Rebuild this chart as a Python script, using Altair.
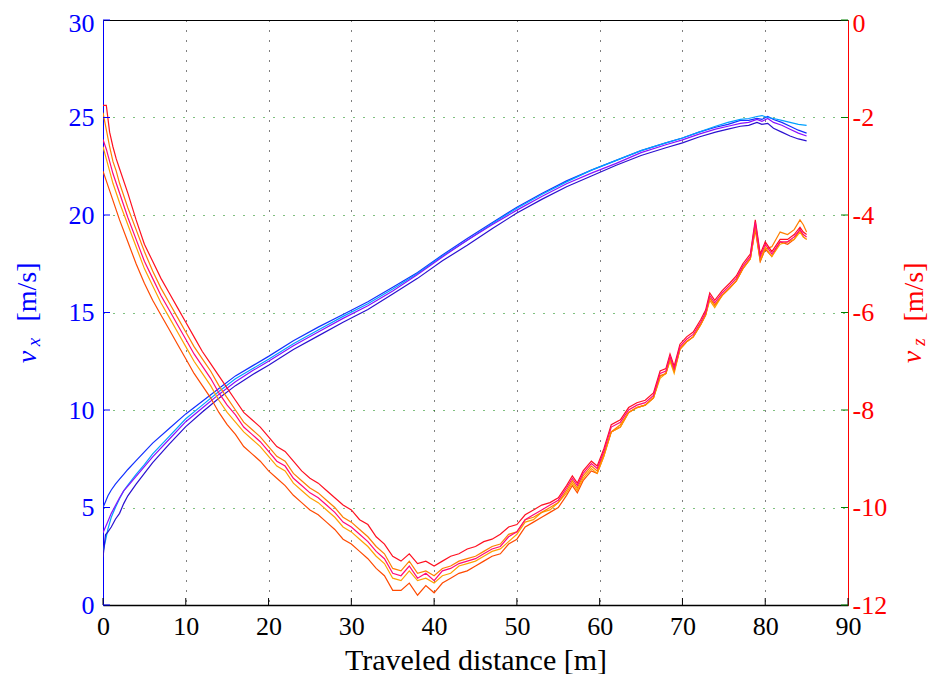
import altair as alt
import pandas as pd

FONT = "Liberation Serif"

# ---------------- axis tick values ----------------
X_TICKS = [0, 10, 20, 30, 40, 50, 60, 70, 80, 90]
VX_TICKS = [0, 5, 10, 15, 20, 25, 30]
VZ_TICKS = [0, -2, -4, -6, -8, -10, -12]

# ---------------- v_z curves (right axis) ----------------
RX = [0, 0.4, 0.8, 1.2, 1.6, 2, 3, 4, 5, 6,
      7, 8, 9, 10, 11, 12, 13, 14, 15, 16,
      17, 18, 19, 20, 21, 22, 23, 24, 25, 26,
      27, 28, 29, 30, 31, 32, 33, 34, 35, 36,
      37, 38, 39, 40, 41, 42, 43, 44, 45, 46,
      47, 48, 49, 50, 51, 52, 53, 54, 55, 56,
      56.7, 57.3, 58, 59, 59.7, 60.5, 61.4, 62.5, 63.5, 64.5,
      65.5, 66.5, 67.3, 68, 68.5, 69, 69.7, 70.5, 71.3, 72.2,
      72.8, 73.3, 73.9, 74.8, 75.7, 76.5, 77.3, 78.2, 78.8, 79.4,
      80, 80.8, 81.8, 82.7, 83.5, 84.2, 84.6, 85]

VZ_ORANGERED = [-3.1, -3.3, -3.5, -3.7, -3.9, -4.1, -4.55, -5.0, -5.4, -5.75,
                -6.05, -6.35, -6.65, -6.95, -7.25, -7.5, -7.75, -8.05, -8.3, -8.5,
                -8.75, -8.9, -9.05, -9.25, -9.4, -9.55, -9.75, -9.9, -10.05, -10.15,
                -10.3, -10.45, -10.65, -10.75, -10.9, -11.05, -11.25, -11.4, -11.7, -11.7,
                -11.55, -11.8, -11.6, -11.75, -11.55, -11.45, -11.35, -11.3, -11.2, -11.1,
                -11.0, -10.95, -10.75, -10.65, -10.4, -10.3, -10.2, -10.1, -10.0, -9.75,
                -9.55, -9.7, -9.45, -9.25, -9.3, -8.95, -8.45, -8.35, -8.05, -7.95,
                -7.9, -7.75, -7.3, -7.25, -6.95, -7.2, -6.75, -6.6, -6.5, -6.25,
                -6.05, -5.7, -5.85, -5.65, -5.5, -5.35, -5.1, -4.9, -4.3, -4.95,
                -4.7, -4.85, -4.55, -4.6, -4.5, -4.3, -4.45, -4.5]

VZ_ORANGE2 = [-2.6, -2.85, -3.1, -3.35, -3.55, -3.75, -4.2, -4.65, -5.1, -5.45,
              -5.8, -6.1, -6.4, -6.7, -7.0, -7.25, -7.5, -7.8, -8.05, -8.25,
              -8.45, -8.6, -8.75, -8.95, -9.15, -9.25, -9.5, -9.65, -9.8, -9.9,
              -10.05, -10.2, -10.4, -10.5, -10.65, -10.8, -11.0, -11.15, -11.45, -11.5,
              -11.3, -11.5, -11.45, -11.55, -11.4, -11.35, -11.2, -11.15, -11.1, -11.0,
              -10.9, -10.85, -10.7, -10.55, -10.3, -10.25, -10.1, -10.05, -9.9, -9.7,
              -9.5, -9.65, -9.4, -9.2, -9.3, -8.95, -8.45, -8.35, -8.05, -7.95,
              -7.9, -7.75, -7.35, -7.25, -7.0, -7.25, -6.75, -6.6, -6.5, -6.25,
              -6.05, -5.75, -5.9, -5.65, -5.5, -5.35, -5.1, -4.9, -4.25, -4.9,
              -4.65, -4.85, -4.6, -4.55, -4.5, -4.35, -4.45, -4.5]

VZ_ORANGE = [-1.9, -2.25, -2.6, -2.9, -3.1, -3.35, -3.85, -4.3, -4.75, -5.15,
             -5.5, -5.8, -6.1, -6.4, -6.7, -6.95, -7.2, -7.5, -7.75, -8.0,
             -8.25, -8.4, -8.55, -8.75, -8.95, -9.05, -9.3, -9.45, -9.6, -9.7,
             -9.85, -10.0, -10.2, -10.3, -10.45, -10.6, -10.8, -10.95, -11.25, -11.3,
             -11.1, -11.35, -11.3, -11.4, -11.25, -11.2, -11.1, -11.05, -11.0, -10.9,
             -10.8, -10.75, -10.55, -10.5, -10.25, -10.2, -10.1, -10.0, -9.9, -9.65,
             -9.45, -9.6, -9.35, -9.15, -9.25, -8.9, -8.45, -8.3, -8.05, -7.95,
             -7.9, -7.75, -7.3, -7.25, -6.95, -7.2, -6.75, -6.6, -6.5, -6.25,
             -6.05, -5.7, -5.85, -5.65, -5.5, -5.35, -5.1, -4.9, -4.25, -4.95,
             -4.7, -4.65, -4.35, -4.4, -4.3, -4.1, -4.2, -4.35]

VZ_RED = [-1.75, -1.75, -2.3, -2.6, -2.85, -3.05, -3.55, -4.1, -4.6, -4.95,
          -5.3, -5.6, -5.9, -6.2, -6.5, -6.8, -7.05, -7.3, -7.55, -7.8,
          -8.05, -8.2, -8.35, -8.55, -8.75, -8.85, -9.05, -9.25, -9.4, -9.5,
          -9.65, -9.8, -9.95, -10.05, -10.25, -10.35, -10.6, -10.75, -11.0, -11.1,
          -10.95, -11.15, -11.1, -11.2, -11.1, -11.0, -10.95, -10.85, -10.8, -10.7,
          -10.65, -10.55, -10.4, -10.35, -10.15, -10.05, -9.95, -9.9, -9.8, -9.55,
          -9.35, -9.5, -9.25, -9.05, -9.15, -8.8, -8.3, -8.2, -7.95, -7.85,
          -7.8, -7.65, -7.2, -7.15, -6.85, -7.1, -6.65, -6.5, -6.4, -6.15,
          -5.95, -5.6, -5.75, -5.55, -5.4, -5.25, -5.0, -4.8, -4.1, -4.8,
          -4.55, -4.75, -4.5, -4.5, -4.4, -4.25, -4.35, -4.4]

VZ_MAGENTA = [-2.45, -2.65, -2.9, -3.15, -3.35, -3.55, -4.05, -4.5, -4.95, -5.3,
              -5.65, -5.95, -6.25, -6.55, -6.85, -7.1, -7.35, -7.65, -7.9, -8.1,
              -8.35, -8.5, -8.65, -8.85, -9.05, -9.15, -9.4, -9.55, -9.7, -9.8,
              -9.95, -10.1, -10.3, -10.4, -10.55, -10.7, -10.9, -11.05, -11.35, -11.4,
              -11.2, -11.45, -11.35, -11.5, -11.3, -11.25, -11.15, -11.1, -11.05, -10.95,
              -10.85, -10.8, -10.6, -10.5, -10.25, -10.15, -10.05, -9.95, -9.85, -9.6,
              -9.4, -9.55, -9.3, -9.1, -9.2, -8.85, -8.35, -8.25, -8.0, -7.9,
              -7.85, -7.7, -7.25, -7.2, -6.9, -7.15, -6.7, -6.55, -6.45, -6.2,
              -6.0, -5.65, -5.8, -5.6, -5.45, -5.3, -5.05, -4.85, -4.15, -4.85,
              -4.6, -4.8, -4.55, -4.55, -4.45, -4.3, -4.4, -4.45]

# ---------------- v_x curves (left axis) ----------------
BX = [0, 0.3, 0.6, 1, 1.5, 2, 2.5, 3, 4, 5,
      6, 8, 10, 12, 14, 16, 18, 20, 23, 26,
      29, 32, 35, 38, 41, 44, 47, 50, 53, 56,
      59, 62, 65, 68, 70, 72, 74, 75.5, 77, 78,
      79, 79.6, 80.3, 81, 82, 83, 84, 85]

VX_BLUE = [5.0, 5.3, 5.6, 5.9, 6.2, 6.45, 6.7, 6.95, 7.4, 7.85,
           8.3, 9.05, 9.8, 10.45, 11.1, 11.75, 12.25, 12.75, 13.55, 14.25,
           14.9, 15.55, 16.3, 17.05, 17.95, 18.8, 19.6, 20.4, 21.1, 21.75,
           22.3, 22.8, 23.3, 23.7, 23.95, 24.25, 24.5, 24.65, 24.85, 24.85,
           24.95, 24.9, 25.05, 24.9, 24.75, 24.55, 24.35, 24.2]

VX_CYAN = [2.7, 3.3, 3.9, 4.5, 5.0, 5.45, 5.85, 6.15, 6.7, 7.2,
           7.75, 8.65, 9.55, 10.25, 10.95, 11.6, 12.1, 12.6, 13.4, 14.1,
           14.8, 15.45, 16.2, 17.0, 17.9, 18.7, 19.55, 20.35, 21.05, 21.7,
           22.3, 22.8, 23.3, 23.7, 23.95, 24.25, 24.55, 24.75, 24.9, 24.95,
           25.05, 25.1, 25.0, 24.95, 24.85, 24.75, 24.65, 24.6]

VX_PURPLE = [3.7, 4.0, 4.3, 4.7, 5.1, 5.5, 5.85, 6.1, 6.6, 7.1,
             7.6, 8.5, 9.4, 10.1, 10.8, 11.45, 12.0, 12.5, 13.3, 14.0,
             14.7, 15.35, 16.1, 16.95, 17.85, 18.7, 19.5, 20.25, 20.95, 21.6,
             22.15, 22.65, 23.2, 23.6, 23.85, 24.15, 24.4, 24.55, 24.7, 24.75,
             24.9, 24.8, 24.95, 24.75, 24.6, 24.4, 24.2, 24.05]

VX_DARKBLUE = [2.45, 3.6, 3.75, 4.0, 4.4, 4.7, 5.2, 5.6, 6.2, 6.75,
               7.3, 8.25, 9.15, 9.9, 10.6, 11.25, 11.8, 12.3, 13.1, 13.8,
               14.5, 15.15, 15.95, 16.75, 17.65, 18.45, 19.3, 20.1, 20.8, 21.45,
               22.0, 22.55, 23.05, 23.45, 23.7, 24.0, 24.25, 24.4, 24.55, 24.6,
               24.75, 24.65, 24.7, 24.45, 24.25, 24.05, 23.9, 23.8]

RED_SERIES = [("orangered", "#ff4a00", VZ_ORANGERED),
              ("orange2", "#ffa000", VZ_ORANGE2),
              ("orange", "#ff7f00", VZ_ORANGE),
              ("red", "#ff1020", VZ_RED),
              ("magenta", "#ff0a7a", VZ_MAGENTA)]
BLUE_SERIES = [("blue", "#1030ff", VX_BLUE),
               ("cyan", "#00a0ff", VX_CYAN),
               ("purple", "#8a10ff", VX_PURPLE),
               ("darkblue", "#2a10d0", VX_DARKBLUE)]


def build(xs, series):
    rows = []
    for k, (name, col, vals) in enumerate(series):
        for d, v in zip(xs, vals):
            rows.append({"s": f"{k}_{name}", "c": col, "d": d, "v": v})
    return pd.DataFrame(rows)


df_red = build(RX, RED_SERIES)
df_blue = build(BX, BLUE_SERIES)

W, H = 745, 585
BLUE = "#0000ff"
RED = "#ff0000"
GREEN = "#008000"

x_scale = alt.Scale(domain=[0, 90], nice=False, zero=False)

x_axis = alt.Axis(
    values=X_TICKS, title="Traveled distance [m]", ticks=False, grid=True,
    gridColor="#000000", gridDash=[1, 9], gridWidth=1,
    gridOpacity=alt.condition("datum.value == 0 || datum.value == 90", alt.value(0), alt.value(1)),
    domainColor="#000000", domainWidth=1.3,
    labelFont=FONT, labelFontSize=26, labelColor="#000000", labelPadding=8,
    labelFlush=False, labelOverlap=False,
    titleFont=FONT, titleFontSize=30, titleFontWeight="normal", titleColor="#000000",
    titlePadding=6,
)

left_axis = alt.Axis(
    values=VX_TICKS, title=None, ticks=False, grid=True,
    gridColor=GREEN, gridDash=[1, 9], gridWidth=1,
    gridOpacity=alt.condition("datum.value == 0 || datum.value == 30", alt.value(0), alt.value(1)),
    domainColor=BLUE, domainWidth=1,
    labelFont=FONT, labelFontSize=26, labelColor=BLUE, labelPadding=9,
    labelOffset=alt.condition("datum.value == 30", alt.value(3), alt.value(0)),
    labelFlush=False, labelOverlap=False,
)

right_axis = alt.Axis(
    orient="right", values=VZ_TICKS, title=None, ticks=False, grid=False,
    domainColor=RED, domainWidth=1,
    labelFont=FONT, labelFontSize=26, labelColor=RED, labelPadding=4,
    labelOffset=alt.condition("datum.value == 0", alt.value(3), alt.value(0)),
    labelFlush=False, labelOverlap=False, labelExpr="'' + datum.value",
)

blue_lines = alt.Chart(df_blue).mark_line(strokeWidth=1.2, clip=True).encode(
    x=alt.X("d:Q", scale=x_scale, axis=x_axis),
    y=alt.Y("v:Q", scale=alt.Scale(domain=[0, 30], nice=False), axis=left_axis),
    color=alt.Color("c:N", scale=None),
    detail="s:N",
)

red_lines = alt.Chart(df_red).mark_line(strokeWidth=1.2, clip=True).encode(
    x=alt.X("d:Q", scale=x_scale, axis=x_axis),
    y=alt.Y("v:Q", scale=alt.Scale(domain=[-12, 0], nice=False), axis=right_axis),
    color=alt.Color("c:N", scale=None),
    detail="s:N",
)

# inward tick marks (MATLAB style)
bottom_ticks = alt.Chart(pd.DataFrame({"t": X_TICKS})).mark_rule(color="#000000", strokeWidth=1).encode(
    x=alt.X("t:Q", scale=x_scale, axis=x_axis),
    y=alt.value(H), y2=alt.value(H - 7),
)
left_ticks = alt.Chart(pd.DataFrame({"t": VX_TICKS})).mark_rule(color=BLUE, strokeWidth=1).encode(
    y=alt.Y("t:Q", scale=alt.Scale(domain=[0, 30], nice=False), axis=None),
    x=alt.value(0), x2=alt.value(7),
)
right_ticks = alt.Chart(pd.DataFrame({"t": VX_TICKS})).mark_rule(color=GREEN, strokeWidth=1).encode(
    y=alt.Y("t:Q", scale=alt.Scale(domain=[0, 30], nice=False), axis=None),
    x=alt.value(W - 7), x2=alt.value(W),
)

one = pd.DataFrame({"a": [0]})


def label(text, x, y, color, size=28, style="normal"):
    return alt.Chart(one).mark_text(
        text=text, angle=270, align="center", baseline="middle",
        font=FONT, fontSize=size, fontStyle=style, color=color,
    ).encode(x=alt.value(x), y=alt.value(y))


titles = [
    label("[m/s]", -75, 272, BLUE),
    label("v", -75, 337, BLUE, 28, "italic"),
    label("x", -69, 322, BLUE, 19, "italic"),
    label("[m/s]", 812, 272, RED),
    label("v", 810, 337, RED, 28, "italic"),
    label("z", 816, 322, RED, 19, "italic"),
]

chart = alt.layer(
    blue_lines, red_lines, bottom_ticks, left_ticks, right_ticks, *titles
).resolve_scale(y="independent").properties(
    width=W, height=H,
    autosize="none",
    padding={"left": 95, "top": 12, "right": 80, "bottom": 69},
    background="#ffffff",
).configure_view(stroke="#000000", strokeWidth=1)

chart.save("out.html", embed_options={"renderer": "svg", "actions": False})
